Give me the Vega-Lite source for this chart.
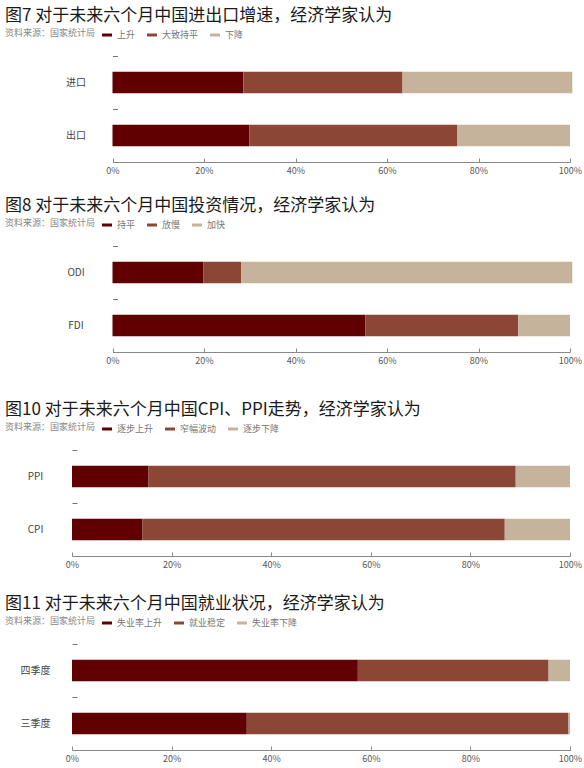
{
  "$schema": "https://vega.github.io/schema/vega-lite/v6.json",
  "background": "white",
  "padding": {"left": 5, "top": 7, "right": 0, "bottom": 0},
  "config": {
    "font": "Noto Sans CJK SC",
    "view": {"stroke": null},
    "title": {"anchor": "start", "frame": "group", "dx": -67, "offset": -9, "fontSize": 17, "fontWeight": "normal", "color": "#1a1a1a", "subtitleFontSize": 9, "subtitleColor": "#888888", "subtitlePadding": 4},
    "axisX": {"grid": false, "title": null, "tickSize": -4, "tickColor": "#888888", "domainColor": "#888888", "labelFontSize": 9, "labelColor": "#555555", "labelPadding": 8, "labelExpr": "datum.value + '%'", "labelFlush": false},
    "axisY": {"grid": false, "title": null, "domain": false, "tickSize": -5, "tickColor": "#777777", "bandPosition": 0, "labelAlign": "center", "labelPadding": 42, "labelFontSize": 10, "labelColor": "#444444"},
    "legend": {"orient": "none", "legendX": 30, "legendY": -26, "direction": "horizontal", "title": null, "symbolType": "M-1,-0.3h2v0.6h-2z", "symbolSize": 100, "symbolStrokeWidth": 0, "labelFontSize": 9, "labelColor": "#777777", "columnPadding": 11, "labelOffset": 5}
  },
  "datasets": {
    "d": [
      {"chart": "p1", "cat": "进口", "series": "上升", "ord": 1, "value": 28.6},
      {"chart": "p1", "cat": "进口", "series": "大致持平", "ord": 2, "value": 34.8},
      {"chart": "p1", "cat": "进口", "series": "下降", "ord": 3, "value": 37.1},
      {"chart": "p1", "cat": "出口", "series": "上升", "ord": 1, "value": 29.9},
      {"chart": "p1", "cat": "出口", "series": "大致持平", "ord": 2, "value": 45.5},
      {"chart": "p1", "cat": "出口", "series": "下降", "ord": 3, "value": 24.6},
      {"chart": "p2", "cat": "ODI", "series": "持平", "ord": 1, "value": 19.9},
      {"chart": "p2", "cat": "ODI", "series": "放慢", "ord": 2, "value": 8.2},
      {"chart": "p2", "cat": "ODI", "series": "加快", "ord": 3, "value": 72.4},
      {"chart": "p2", "cat": "FDI", "series": "持平", "ord": 1, "value": 55.3},
      {"chart": "p2", "cat": "FDI", "series": "放慢", "ord": 2, "value": 33.4},
      {"chart": "p2", "cat": "FDI", "series": "加快", "ord": 3, "value": 11.3},
      {"chart": "p3", "cat": "PPI", "series": "逐步上升", "ord": 1, "value": 15.3},
      {"chart": "p3", "cat": "PPI", "series": "窄幅波动", "ord": 2, "value": 73.8},
      {"chart": "p3", "cat": "PPI", "series": "逐步下降", "ord": 3, "value": 10.9},
      {"chart": "p3", "cat": "CPI", "series": "逐步上升", "ord": 1, "value": 14.1},
      {"chart": "p3", "cat": "CPI", "series": "窄幅波动", "ord": 2, "value": 72.8},
      {"chart": "p3", "cat": "CPI", "series": "逐步下降", "ord": 3, "value": 13.1},
      {"chart": "p4", "cat": "四季度", "series": "失业率上升", "ord": 1, "value": 57.4},
      {"chart": "p4", "cat": "四季度", "series": "就业稳定", "ord": 2, "value": 38.3},
      {"chart": "p4", "cat": "四季度", "series": "失业率下降", "ord": 3, "value": 4.3},
      {"chart": "p4", "cat": "三季度", "series": "失业率上升", "ord": 1, "value": 35.1},
      {"chart": "p4", "cat": "三季度", "series": "就业稳定", "ord": 2, "value": 64.6},
      {"chart": "p4", "cat": "三季度", "series": "失业率下降", "ord": 3, "value": 0.3}
    ]
  },
  "data": {"name": "d"},
  "spacing": 36,
  "resolve": {"scale": {"color": "independent", "x": "independent", "y": "independent"}, "legend": {"color": "independent"}},
  "vconcat": [
    {
      "spacing": 22,
      "resolve": {"scale": {"color": "independent", "x": "independent", "y": "independent"}, "legend": {"color": "independent"}},
      "vconcat": [
        {
          "width": 498, "height": 106,
          "transform": [{"filter": "datum.chart == 'p1'"}],
          "title": {"text": "图7  对于未来六个月中国进出口增速，经济学家认为", "subtitle": "资料来源：国家统计局"},
          "mark": {"type": "bar", "size": 21.5},
          "encoding": {
            "y": {"field": "cat", "type": "nominal", "sort": ["进口", "出口"], "scale": {"paddingInner": 0, "paddingOuter": 0}, "axis": {"offset": -40.5}},
            "x": {"field": "value", "type": "quantitative", "stack": "zero", "scale": {"domain": [0, 100], "range": [40.5, 498]}, "axis": {"values": [0, 20, 40, 60, 80, 100]}},
            "color": {"field": "series", "type": "nominal", "scale": {"domain": ["上升", "大致持平", "下降"], "range": ["#600000", "#8b4636", "#c5b49b"]}},
            "order": {"field": "ord", "type": "quantitative"}
          }
        },
        {
          "width": 498, "height": 106,
          "transform": [{"filter": "datum.chart == 'p2'"}],
          "title": {"text": "图8  对于未来六个月中国投资情况，经济学家认为", "subtitle": "资料来源：国家统计局"},
          "mark": {"type": "bar", "size": 21.5},
          "encoding": {
            "y": {"field": "cat", "type": "nominal", "sort": ["ODI", "FDI"], "scale": {"paddingInner": 0, "paddingOuter": 0}, "axis": {"offset": -40.5}},
            "x": {"field": "value", "type": "quantitative", "stack": "zero", "scale": {"domain": [0, 100], "range": [40.5, 498]}, "axis": {"values": [0, 20, 40, 60, 80, 100]}},
            "color": {"field": "series", "type": "nominal", "scale": {"domain": ["持平", "放慢", "加快"], "range": ["#600000", "#8b4636", "#c5b49b"]}},
            "order": {"field": "ord", "type": "quantitative"}
          }
        }
      ]
    },
    {
      "spacing": 26,
      "resolve": {"scale": {"color": "independent", "x": "independent", "y": "independent"}, "legend": {"color": "independent"}},
      "vconcat": [
        {
          "width": 498, "height": 106,
          "transform": [{"filter": "datum.chart == 'p3'"}],
          "title": {"text": "图10 对于未来六个月中国CPI、PPI走势，经济学家认为", "subtitle": "资料来源：国家统计局"},
          "mark": {"type": "bar", "size": 21.5},
          "encoding": {
            "y": {"field": "cat", "type": "nominal", "sort": ["PPI", "CPI"], "scale": {"paddingInner": 0, "paddingOuter": 0}},
            "x": {"field": "value", "type": "quantitative", "stack": "zero", "scale": {"domain": [0, 100]}, "axis": {"values": [0, 20, 40, 60, 80, 100]}},
            "color": {"field": "series", "type": "nominal", "scale": {"domain": ["逐步上升", "窄幅波动", "逐步下降"], "range": ["#600000", "#8b4636", "#c5b49b"]}},
            "order": {"field": "ord", "type": "quantitative"}
          }
        },
        {
          "width": 498, "height": 106,
          "transform": [{"filter": "datum.chart == 'p4'"}],
          "title": {"text": "图11 对于未来六个月中国就业状况，经济学家认为", "subtitle": "资料来源：国家统计局"},
          "mark": {"type": "bar", "size": 21.5},
          "encoding": {
            "y": {"field": "cat", "type": "nominal", "sort": ["四季度", "三季度"], "scale": {"paddingInner": 0, "paddingOuter": 0}},
            "x": {"field": "value", "type": "quantitative", "stack": "zero", "scale": {"domain": [0, 100]}, "axis": {"values": [0, 20, 40, 60, 80, 100]}},
            "color": {"field": "series", "type": "nominal", "scale": {"domain": ["失业率上升", "就业稳定", "失业率下降"], "range": ["#600000", "#8b4636", "#c5b49b"]}},
            "order": {"field": "ord", "type": "quantitative"}
          }
        }
      ]
    }
  ]
}
